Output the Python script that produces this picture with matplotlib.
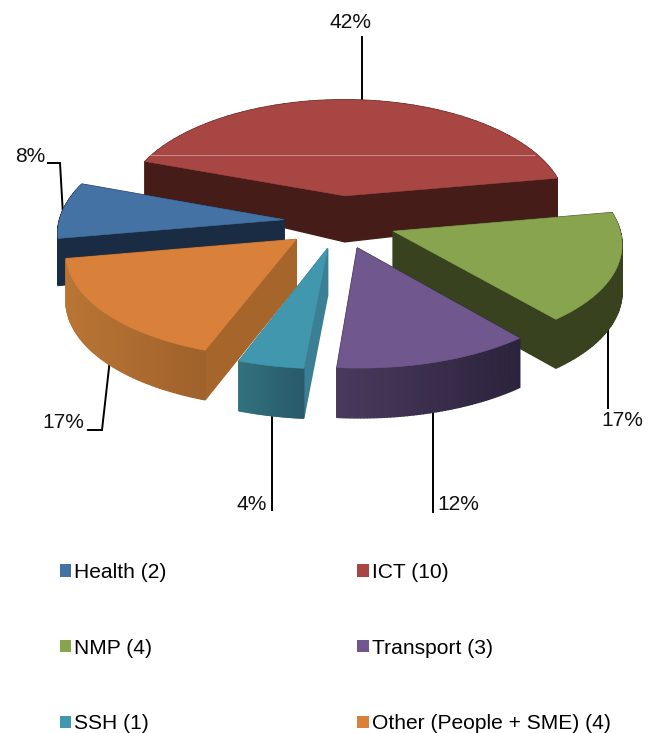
import numpy as np
import matplotlib
matplotlib.use("Agg")
import matplotlib.pyplot as plt
from matplotlib.patches import Polygon, Patch
from matplotlib.colors import to_rgb

plt.rcParams['font.family'] = ['Liberation Sans', 'DejaVu Sans']

categories = ['Health (2)', 'ICT (10)', 'NMP (4)', 'Transport (3)', 'SSH (1)', 'Other (People + SME) (4)']
values = [2, 10, 4, 3, 1, 4]
percent_labels = ['8%', '42%', '17%', '12%', '4%', '17%']
top_colors = ['#4472A4', '#A84644', '#89A44F', '#70588E', '#4197AE', '#D9813B']
arc_left = ['#1A2C44', '#461C19', '#38421E', '#4A3A5E', '#33727F', '#B97535']
arc_right = ['#1A2C44', '#461C19', '#38421E', '#2C233C', '#285A6A', '#A0622B']
radial = ['#1A2C44', '#461C19', '#38421E', '#2C233C', '#3A7F94', '#A5652B']

# projection settings (pixels)
CX, CY, A, B, KX, KY, EXPL = 340, 222, 225, 107, 0.10, 0.075, 0.25
START = -100.0

fig = plt.figure(figsize=(6.58, 7.33), dpi=100)
ax = fig.add_axes([0, 0, 1, 1])
ax.set_xlim(0, 658)
ax.set_ylim(733, 0)
ax.axis('off')


def proj(X, Y, low=False):
    drop = np.interp(Y, [-1.3, 0.25, 0.6], [50, 46, 33]) if low else 0.0
    return CX + A * X / (1 + KX * Y), CY - B * Y / (1 + KY * Y) + drop


# leader lines and percentage labels, in slice order (behind the pie)
leaders = [
    ([63, 60, 48], [215, 163, 163]),
    ([362, 362], [110, 37]),
    ([608, 608], [300, 408]),
    ([433, 433], [400, 512]),
    ([272, 272], [400, 510]),
    ([111, 102, 88], [350, 430, 430]),
]
label_xy = [(30, 157), (350, 22), (622, 420), (458, 505), (252, 504), (63, 423)]
for (lx, ly), (tx, ty), s in zip(leaders, label_xy, percent_labels):
    ax.plot(lx, ly, color='black', lw=1.4, solid_joinstyle='miter', zorder=1)
    ax.text(tx, ty, s, fontsize=15.1, ha='center', va='center', color='#111111')

vals = np.array(values, float)
spans = vals / vals.sum() * 360
starts = START + np.concatenate([[0], np.cumsum(spans)[:-1]])
mids = starts + spans / 2
order = np.argsort(-np.cos(np.radians(mids)))

for i in order:
    m = np.radians(mids[i])
    ox, oy = EXPL * np.sin(m), EXPL * np.cos(m)
    th = np.radians(np.linspace(starts[i], starts[i] + spans[i], 61))
    Xs, Ys = ox + np.sin(th), oy + np.cos(th)

    faces = []
    for X_e, Y_e in [(Xs[0], Ys[0]), (Xs[-1], Ys[-1])]:
        pts = [proj(ox, oy), proj(X_e, Y_e), proj(X_e, Y_e, True), proj(ox, oy, True)]
        faces.append(((oy + Y_e) / 2, pts, radial[i]))
    xpix = [proj(x, y)[0] for x, y in zip(Xs, Ys)]
    lo, hi = min(xpix), max(xpix)
    cl, cr = np.array(to_rgb(arc_left[i])), np.array(to_rgb(arc_right[i]))
    for j in range(len(th) - 1):
        pts = [proj(Xs[j], Ys[j]), proj(Xs[j + 1], Ys[j + 1]),
               proj(Xs[j + 1], Ys[j + 1], True), proj(Xs[j], Ys[j], True)]
        t = (xpix[j] - lo) / max(hi - lo, 1)
        c = tuple(cl + (cr - cl) * t)
        faces.append(((Ys[j] + Ys[j + 1]) / 2, pts, c))
    for _, pts, c in sorted(faces, key=lambda f: -f[0]):
        ax.add_patch(Polygon(pts, closed=True, facecolor=c, edgecolor=c, linewidth=1.0, zorder=2))

    top = [proj(ox, oy)] + [proj(x, y) for x, y in zip(Xs, Ys)]
    ax.add_patch(Polygon(top, closed=True, facecolor=top_colors[i], edgecolor=top_colors[i], linewidth=0.4, zorder=2))

# thin light seam across the ICT top
ax.plot([150, 535], [155, 155], color='#C98A86', lw=0.8, solid_capstyle='butt', zorder=3)

# legend: filled column by column
legend_order = [0, 2, 4, 1, 3, 5]
handles = [Patch(facecolor=top_colors[i], edgecolor='none', label=categories[i]) for i in legend_order]
ax.legend(handles=handles, ncol=2, loc='upper left', bbox_to_anchor=(60 / 658, 1 - 563 / 733),
          frameon=False, fontsize=15.1, handlelength=0.53, handleheight=0.53, handletextpad=0.15,
          labelspacing=2.7, columnspacing=9.1, borderpad=0, borderaxespad=0)

fig.savefig('out.png', dpi=100)
